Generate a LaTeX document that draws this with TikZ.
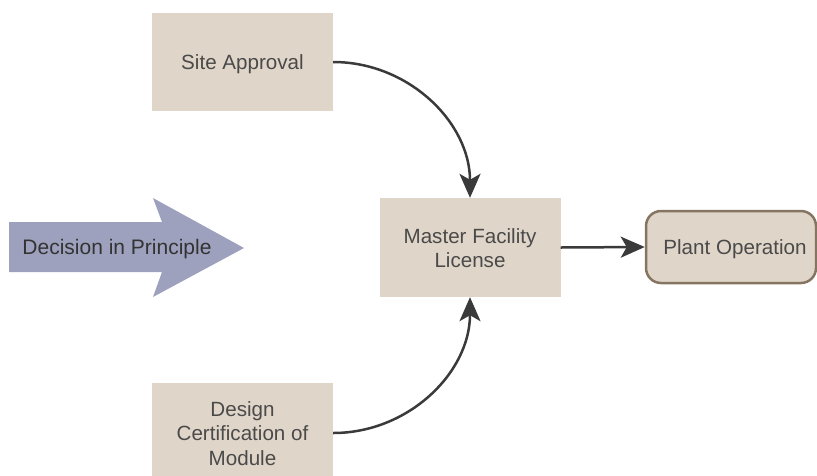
\documentclass[tikz,border=0pt]{standalone}
\usepackage{fontspec}
\setmainfont{Liberation Sans}
\usetikzlibrary{arrows.meta}
\definecolor{boxfill}{HTML}{E0D5C9}
\definecolor{boxline}{HTML}{857561}
\definecolor{txt}{HTML}{4A4A4A}
\definecolor{arrowfill}{HTML}{9EA1BD}
\definecolor{conn}{HTML}{3A3A3A}
\begin{document}
\begin{tikzpicture}[x=1pt,y=-1pt,
  every node/.style={font=\fontsize{20.6}{24.5}\selectfont, text=txt, align=center, inner sep=0pt},
  lbl/.style={yshift=-2.5pt},
  stagebox/.style={fill=boxfill, minimum width=181pt},
  opbox/.style={fill=boxfill, draw=boxline, line width=2.5pt, rounded corners=15pt, minimum width=170pt, minimum height=72pt},
  conn/.style={draw=conn, line width=2.5pt, -{Stealth[length=24pt,width=21pt,inset=6pt]}}
]
\useasboundingbox (0,0) rectangle (817,475);
% big arrow
\fill[arrowfill] (9,222) -- (162,222) -- (153,198) -- (244,248) -- (153,297) -- (162,272) -- (9,272) -- cycle;
\node[lbl, text=black!80, font=\fontsize{21}{24.5}\selectfont] (dip) at (117,247) {Decision in Principle};
% boxes
\node[stagebox, minimum height=98pt] (site) at (242.5,62) {};
\node[lbl] (sitet) at (site.center) {Site Approval};
\node[stagebox, minimum height=99pt] (mfl) at (470,247.5) {};
\node[lbl] (mflt) at (470,245.5) {Master Facility\\License};
\node[stagebox, minimum height=102pt] (dcm) at (242.5,434) {};
\node[lbl] (dcmt) at (242.5,431) {Design\\Certification of\\Module};
\node[opbox] (plant) at (731,247) {};
\node[lbl] (plantt) at (735,247) {Plant Operation};
% connectors
\draw[conn] (site.east) to[out=0,in=90] (mfl.north);
\draw[conn] (dcm.east |- 0,433) to[out=0,in=-90] (mfl.south);
\draw[conn] (mfl.east) -- (plant.west);
\end{tikzpicture}
\end{document}
